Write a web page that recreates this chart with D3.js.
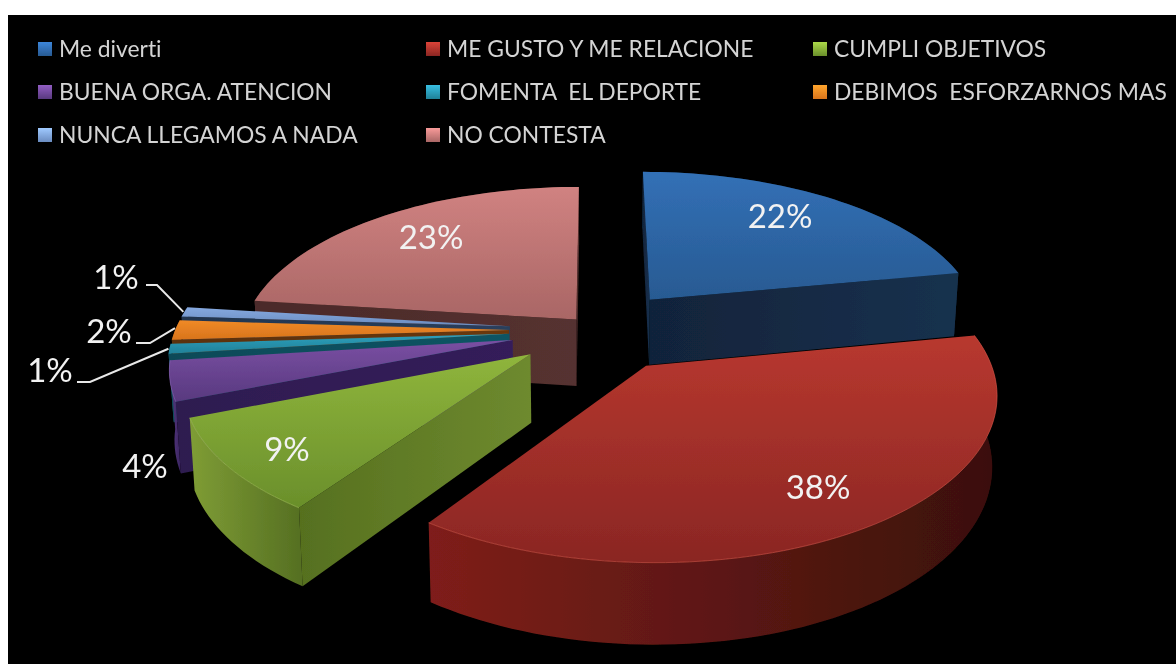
<!DOCTYPE html>
<html><head><meta charset="utf-8">
<style>html,body{margin:0;padding:0;background:#fff}svg{display:block}text{font-family:Lato,"Open Sans",sans-serif;font-variant-ligatures:none}</style>
<script src="https://cdnjs.cloudflare.com/ajax/libs/d3/7.9.0/d3.min.js"></script>
</head><body><svg id="c" width="1176" height="664"></svg>
<script>
// --- data ---
const categories = ["Me diverti","ME GUSTO Y ME RELACIONE","CUMPLI OBJETIVOS","BUENA ORGA. ATENCION","FOMENTA  EL DEPORTE","DEBIMOS  ESFORZARNOS MAS","NUNCA LLEGAMOS A NADA","NO CONTESTA"];
const values = [22,37.6,9.4,4,1,2,1,23];
const valueLabels = ["22%","38%","9%","4%","1%","2%","1%","23%"];
const explosion = [0.26,0.265,0.245,0.255,0.26,0.26,0.26,0.09];

// --- styles ---
const topColors = [["#3270b6","#285a92"],["#b8382f","#8a2623"],["#8fb53c","#6a8f2b"],["#7a4fa3","#58397f"],["#2fa0bd","#1f8198"],["#f08a26","#d8741c"],["#86a9e0","#6a8cc0"],["#d08281","#a96665"]];
const outerColors = [["#16304e","#12283f"],["#7f1f1a","#3a100c"],["#7f9d35","#556f22"],["#5b3a86","#3a2560"],["#14606f","#14606f"],["#8a4a12","#8a4a12"],["#2c4468","#2c4468"],["#5a3230","#4a2a28"]];
const cutColors = [["#11233a","#16314e"],["#3a100c","#3a100c"],["#56701f","#6e8a2f"],["#2e1a50","#341e5a"],["#0f4a58","#0f5464"],["#5a300c","#6a380e"],["#22354f","#2a3f5c"],["#4b2a29","#553130"]];
const edgeColors = [null,"#d8564a","#a9c85a","#8a66b5",null,null,null,null];

// --- layout ---
const legendCols=[38,426,813], legendRows=[49,92,135];
const labelAnchors=[[780,216],[818,487],[287,449],[145,466],[50,370],[109,331],[116,277],[431,237]];
const leaderStarts={4:[77,382],5:[136,343],6:[146,285]};
const leaderElbow={4:[90,382],5:[150,343],6:[157,285]};
const P={cx:596,cy:330,A:334,B:155.5,p:0.15,H:67,taper:0.012};

const svg=d3.select("#c");
const defs=svg.append("defs");
defs.append("filter").attr("id","soft").append("feGaussianBlur").attr("stdDeviation",0.55);
defs.append("filter").attr("id","pieSoft").append("feGaussianBlur").attr("stdDeviation",0.4);
svg.append("rect").attr("x",8).attr("y",15).attr("width",1168).attr("height",649).attr("fill","#000");

function grad(id,c,h){
  const g=defs.append("linearGradient").attr("id",id).attr("x1",0).attr("y1",0).attr("x2",h?1:0).attr("y2",h?0:1);
  g.append("stop").attr("offset",0).attr("stop-color",c[0]);
  g.append("stop").attr("offset",1).attr("stop-color",c[1]);
  return `url(#${id})`;
}

// projection of ground coordinates (u right, v away, z=0 top,1 bottom) to the page
const sx=d3.scaleLinear().domain([0,1]).range([P.cx,P.cx+P.A]);
const sy=d3.scaleLinear().domain([0,1]).range([P.cy,P.cy-P.B]);
function proj(u,v,z){
  const s=1/(1+P.p*v);
  return [sx(u*s*(1-P.taper*z)), sy(v*s)+z*P.H*s];
}
const pie=d3.pie().sort(null).value(d=>d)(values);
const line=d3.line();
const arcs=svg.append("g").attr("filter","url(#pieSoft)");

function slicePts(d,i){
  const mid=(d.startAngle+d.endAngle)/2, e=explosion[i];
  const ox=e*Math.sin(mid), oy=e*Math.cos(mid);
  const n=Math.max(4,Math.ceil((d.endAngle-d.startAngle)/0.03));
  const rim=d3.range(n+1).map(k=>{
    const a=d.startAngle+(d.endAngle-d.startAngle)*k/n;
    return [ox+Math.sin(a),oy+Math.cos(a)];
  });
  return {apex:[ox,oy],rim};
}
const order=[0,7,6,5,4,3,2,1];
order.forEach(i=>{
  const {apex,rim}=slicePts(pie[i],i);
  const T=rim.map(p=>proj(p[0],p[1],0)), Bt=rim.map(p=>proj(p[0],p[1],1));
  const a0=proj(apex[0],apex[1],0), a1=proj(apex[0],apex[1],1);
  const g=arcs.append("g");
  const cg=grad("cut"+i,cutColors[i],true);
  // outer wall
  g.append("path").attr("d",line(T.concat(Bt.slice().reverse()))+"Z").attr("fill",grad("out"+i,outerColors[i],true));
  // cut faces: only those turned toward the viewer
  const qs=[a0,T[0],Bt[0],a1], qe=[a0,T[T.length-1],Bt[Bt.length-1],a1];
  if(d3.polygonArea(qs)>0) g.append("path").attr("d",line(qs)+"Z").attr("fill",cg);
  if(d3.polygonArea(qe)<0) g.append("path").attr("d",line(qe)+"Z").attr("fill",cg);
  // top
  g.append("path").attr("d",line([a0].concat(T))+"Z").attr("fill",grad("top"+i,topColors[i],false));
  if(edgeColors[i]) g.append("path").attr("d",line(T)).attr("fill","none").attr("stroke",edgeColors[i]).attr("stroke-width",1).attr("stroke-opacity",.6);
});

// data labels
const lab=svg.append("g").attr("filter","url(#soft)");
lab.selectAll("text").data(valueLabels).join("text")
  .attr("x",(d,i)=>labelAnchors[i][0]).attr("y",(d,i)=>labelAnchors[i][1]+11.5)
  .attr("text-anchor","middle").attr("font-size",33).attr("fill","#f2f2f2").text(d=>d);

// leader lines
Object.keys(leaderStarts).forEach(k=>{
  const i=+k,{rim}=slicePts(pie[i],i);
  const m=rim[Math.floor(rim.length/2)];
  const end=proj(m[0],m[1],0);
  lab.append("path").attr("d",line([leaderStarts[i],leaderElbow[i],[end[0]-1,end[1]]]))
    .attr("fill","none").attr("stroke","#e8e8e8").attr("stroke-width",2);
});

// legend
const leg=svg.append("g");
categories.forEach((c,i)=>{
  const x=legendCols[i%3], y=legendRows[Math.floor(i/3)];
  leg.append("rect").attr("x",x).attr("y",y-7).attr("width",14).attr("height",14)
    .attr("fill",grad("lg"+i,[d3.color(topColors[i][0]).brighter(.5)+"",topColors[i][1]],false)).attr("filter","url(#soft)");
  leg.append("text").attr("x",x+21).attr("y",y+8).attr("font-size",22.85).attr("fill","#d4d4d4")
    .style("white-space","pre").attr("filter","url(#soft)").text(c);
});
</script></body></html>
